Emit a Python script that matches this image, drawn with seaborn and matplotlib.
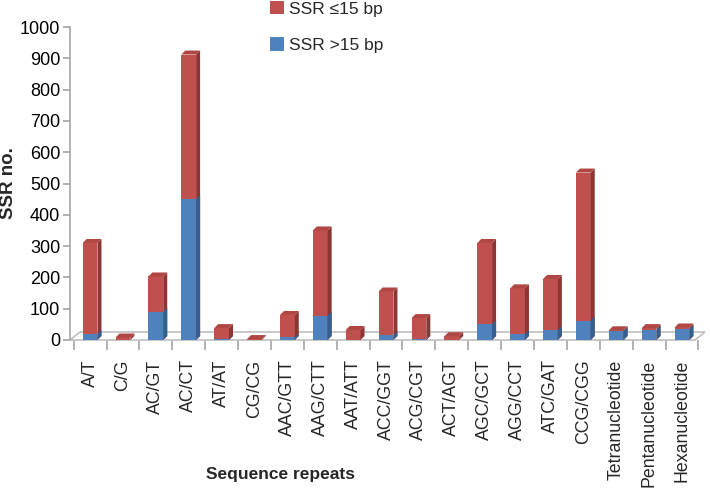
import matplotlib
matplotlib.use("Agg")
import matplotlib.pyplot as plt
from matplotlib.patches import Polygon
import seaborn as sns
import pandas as pd
import numpy as np

categories = ["A/T", "C/G", "AC/GT", "AC/CT", "AT/AT", "CG/CG", "AAC/GTT", "AAG/CTT",
              "AAT/ATT", "ACC/GGT", "ACG/CGT", "ACT/AGT", "AGC/GCT", "AGG/CCT",
              "ATC/GAT", "CCG/CGG", "Tetranucleotide", "Pentanucleotide", "Hexanucleotide"]
ssr_le15 = [290, 8, 113, 462, 35, 3, 72, 272, 32, 140, 67, 12, 260, 147, 163, 473, 3, 5, 5]
ssr_gt15 = [20, 0, 90, 450, 3, 0, 8, 78, 0, 15, 3, 0, 50, 18, 32, 62, 28, 33, 35]
yticks = [0, 100, 200, 300, 400, 500, 600, 700, 800, 900, 1000]

RED = "#C0504D"
BLUE = "#4F81BD"
RED_SIDE = "#8C3533"
BLUE_SIDE = "#365F91"

sns.set_theme(style="white")
plt.rcParams["font.family"] = ["Liberation Sans", "DejaVu Sans"]

df = pd.DataFrame({"cat": categories, "gt15": ssr_gt15,
                   "total": np.array(ssr_le15) + np.array(ssr_gt15)})

fig = plt.figure(figsize=(7.1, 4.9), dpi=100)
ax = fig.add_axes([70 / 710, 1 - 340 / 490, 635 / 710, 313 / 490])

sns.barplot(data=df, x="cat", y="total", color=RED, saturation=1, width=0.45,
            ax=ax, label="SSR \u226415 bp", zorder=3, linewidth=0, edgecolor="none")
sns.barplot(data=df, x="cat", y="gt15", color=BLUE, saturation=1, width=0.45,
            ax=ax, label="SSR >15 bp", zorder=3, linewidth=0, edgecolor="none")

ax.set_xlim(-0.61, 18.7)
ax.set_ylim(0, 1000)
ax.set_yticks(yticks)

# pseudo 3D side faces derived from the drawn bars
fig.canvas.draw()
inv = ax.transData.inverted()
x0, y0 = inv.transform((0, 0))
x1, y1 = inv.transform((4, 4))
ddx, ddy = x1 - x0, y1 - y0
n = len(categories)
for i, p in enumerate(list(ax.patches)):
    x, y, w, h = p.get_x(), p.get_y(), p.get_width(), p.get_height()
    if h <= 0 and i >= n:
        continue
    side = RED_SIDE if i < n else BLUE_SIDE
    ax.add_patch(Polygon([(x + w, y), (x + w + ddx, y + ddy), (x + w + ddx, y + h + ddy),
                          (x + w, y + h)], closed=True, color=side, zorder=3, lw=0,
                         clip_on=False))
    if i < n:
        ax.add_patch(Polygon([(x, y + h), (x + w, y + h), (x + w + ddx, y + h + ddy),
                              (x + ddx, y + h + ddy)], closed=True, color="#B04643",
                             zorder=3, lw=0, clip_on=False))

# floor outline
fx0, fy0 = inv.transform((0, 0))
fx1, fy1 = inv.transform((10, 8))
fdx, fdy = fx1 - fx0, fy1 - fy0
xl = ax.get_xlim()
floor = Polygon([(xl[0], 0), (xl[1] - fdx, 0), (xl[1], fdy), (xl[0] + fdx, fdy)],
                closed=True, fill=False, edgecolor="#BFBFBF", lw=1.2, zorder=2,
                clip_on=False)
ax.add_patch(floor)

for s in ["top", "right", "bottom"]:
    ax.spines[s].set_visible(False)
ax.spines["left"].set_color("#A6A6A6")
ax.spines["left"].set_linewidth(1.2)

ax.tick_params(axis="y", left=True, length=5, color="#A6A6A6", labelsize=13,
               labelcolor="black", pad=2)
ax.set_xticks(range(n))
ax.set_xticklabels(categories, rotation=90, fontsize=12.8, va="top")
ax.tick_params(axis="x", bottom=False, pad=8)
ax.set_xticks(np.arange(-0.5, n, 1.0), minor=True)
ax.tick_params(axis="x", which="minor", bottom=True, length=7, color="#A6A6A6", width=1.2)

ax.set_xlabel("Sequence repeats", fontsize=12.5, fontweight="bold")
ax.xaxis.set_label_coords((281 - 70) / 635, (340 - 467) / 313)
ax.set_ylabel("SSR no.", fontsize=13.5, fontweight="bold")
ax.yaxis.set_label_coords((8.5 - 70) / 635, 0.5)
ax.yaxis.label.set_va("center")

h, l = ax.get_legend_handles_labels()
if ax.legend_:
    ax.legend_.remove()
fig.legend(h, l, loc="upper left", bbox_to_anchor=(254 / 710, 1.03), frameon=False,
           fontsize=12.5, handlelength=0.8, handleheight=0.8, handletextpad=0.3,
           labelspacing=1.2)

fig.savefig("out.png", dpi=100)
